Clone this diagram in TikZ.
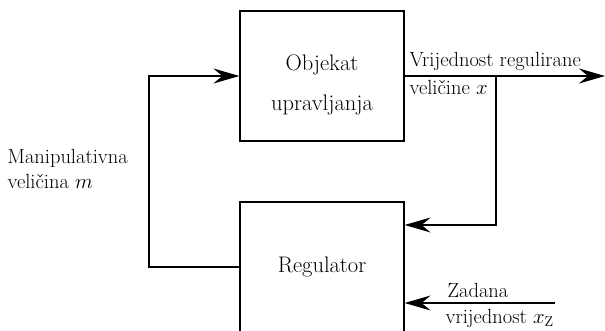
\documentclass[tikz,border=0pt]{standalone}
\usepackage{fontspec}
\usepackage{amsmath}
\usepackage{tikz}
\usetikzlibrary{arrows.meta}
\usetikzlibrary{positioning}

\begin{document}
\begin{tikzpicture}[x=1pt, y=1pt, line width=1.2pt,
 blok/.style={rectangle, draw=black, minimum width=164pt, minimum height=130pt},
 natpis/.style={align=center, font=\fontsize{22.5}{40}\selectfont},
 oznaka/.style={inner sep=0pt, align=left, font=\fontsize{20.5}{25}\selectfont},
 strelica/.style={-{Stealth[length=26pt, width=15pt, inset=9pt]}}]
 \useasboundingbox (0,0) rectangle (605,330);
 \clip (0,0) rectangle (605,330);
 \node [blok] (O) at (322, 254) {};
 \node [blok] (R) at (322, 63) {};
 \node [natpis] (Ot) at (322, 245) {Objekat\\upravljanja};
 \node [natpis] (Rt) at (322, 63) {Regulator};
 \coordinate (I) at (605, 254);
 \coordinate (G) at (496, 254);
 \coordinate (P) at (496, 105);
 \coordinate (M) at (149, 63);
 \coordinate (Z) at (555, 27);
 \node [oznaka, anchor=base west] (V1) at (409, 263) {Vrijednost regulirane};
 \node [oznaka, anchor=base west] (V2) at (409, 236) {veli\v{c}ine $x$};
 \node [oznaka, anchor=west] (Mv) at (7, 161) {Manipulativna\\veli\v{c}ina $m$};
 \node [oznaka, anchor=base west] (Z1) at (447, 33) {Zadana};
 \node [oznaka, anchor=base west] (Z2) at (445, 7) {vrijednost $x_\mathrm{Z}$};
 \draw [strelica] (R.west) -- (M) |- (O.west);
 \draw [strelica] (O.east) -- (I);
 \draw [strelica] (G) -- (P) -- (R.east |- P);
 \draw [strelica] (Z) -- (R.east |- Z);
\end{tikzpicture}
\end{document}
